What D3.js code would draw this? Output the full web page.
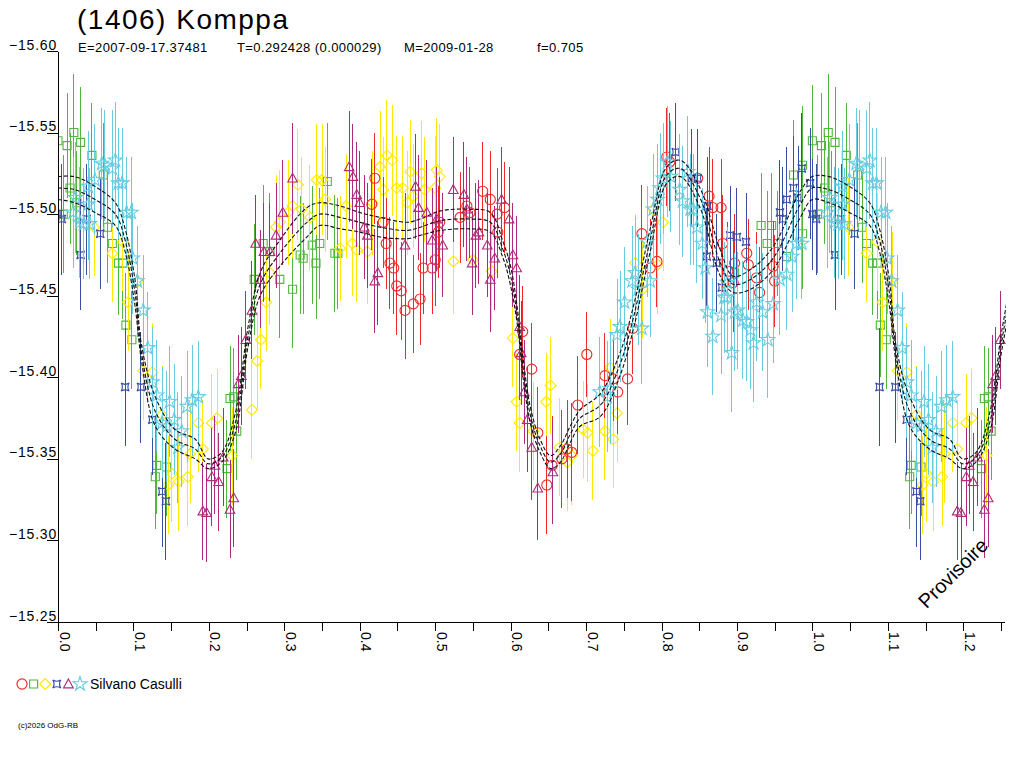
<!DOCTYPE html>
<html>
<head>
<meta charset="utf-8">
<script src="https://cdn.jsdelivr.net/npm/d3@7"></script>
<style>
body { margin: 0; background: #fff; }
text { font-family: "Liberation Sans", Arial, sans-serif; fill: #000; }
</style>
</head>
<body>
<svg id="chart" width="1024" height="768"></svg>
<script>
// phase, magnitude, error  (one array per session/symbol)
var red = [[0.416,-15.506,0.028],[0.420,-15.522,0.028],[0.431,-15.495,0.028],[0.435,-15.482,0.028],[0.440,-15.470,0.028],[0.445,-15.467,0.028],[0.449,-15.456,0.030],[0.455,-15.453,0.030],[0.460,-15.441,0.030],[0.471,-15.445,0.030],[0.480,-15.448,0.028],[0.484,-15.467,0.028],[0.496,-15.467,0.028],[0.500,-15.472,0.028],[0.504,-15.489,0.028],[0.506,-15.495,0.028],[0.533,-15.498,0.028],[0.542,-15.505,0.028],[0.546,-15.501,0.028],[0.563,-15.514,0.030],[0.573,-15.509,0.030],[0.582,-15.500,0.028],[0.583,-15.489,0.028],[0.592,-15.504,0.028],[0.612,-15.414,0.028],[0.616,-15.428,0.028],[0.628,-15.405,0.028],[0.636,-15.366,0.028],[0.648,-15.334,0.030],[0.655,-15.346,0.030],[0.668,-15.350,0.030],[0.675,-15.356,0.030],[0.681,-15.354,0.030],[0.689,-15.383,0.030],[0.701,-15.414,0.026],[0.725,-15.401,0.026],[0.736,-15.399,0.026],[0.742,-15.391,0.026],[0.755,-15.399,0.028],[0.762,-15.430,0.028],[0.774,-15.488,0.030],[0.785,-15.467,0.030],[0.794,-15.471,0.028],[0.807,-15.535,0.030],[0.811,-15.532,0.030],[0.848,-15.522,0.028],[0.863,-15.511,0.030],[0.868,-15.504,0.030],[0.879,-15.504,0.030],[0.881,-15.482,0.030],[0.888,-15.465,0.030],[0.895,-15.458,0.030],[0.897,-15.470,0.030],[0.913,-15.476,0.028],[0.915,-15.469,0.028],[0.926,-15.461,0.028],[0.930,-15.452,0.028],[0.948,-15.468,0.028],[0.950,-15.459,0.028]];

var green = [[0.000,-15.545,0.034],[0.007,-15.500,0.036],[0.012,-15.542,0.032],[0.016,-15.516,0.034],[0.021,-15.550,0.036],[0.025,-15.507,0.032],[0.030,-15.544,0.034],[0.045,-15.536,0.032],[0.060,-15.524,0.032],[0.066,-15.492,0.034],[0.072,-15.482,0.032],[0.080,-15.470,0.032],[0.086,-15.470,0.034],[0.090,-15.432,0.032],[0.098,-15.423,0.030],[0.129,-15.339,0.032],[0.131,-15.346,0.030],[0.144,-15.345,0.030],[0.224,-15.344,0.030],[0.228,-15.387,0.032],[0.233,-15.388,0.030],[0.237,-15.367,0.030],[0.260,-15.460,0.034],[0.272,-15.482,0.036],[0.281,-15.477,0.036],[0.294,-15.460,0.036],[0.311,-15.454,0.036],[0.321,-15.475,0.036],[0.325,-15.473,0.034],[0.337,-15.481,0.036],[0.342,-15.470,0.034],[0.347,-15.482,0.034],[0.357,-15.520,0.036],[0.367,-15.476,0.036],[0.371,-15.476,0.034],[0.897,-15.464,0.032],[0.932,-15.493,0.032],[0.940,-15.482,0.032],[0.946,-15.493,0.032],[0.954,-15.482,0.032],[0.966,-15.474,0.032],[0.975,-15.524,0.034],[0.987,-15.530,0.036],[0.987,-15.488,0.034]];

var yellow = [[0.048,-15.492,0.030],[0.072,-15.476,0.030],[0.086,-15.483,0.030],[0.093,-15.446,0.030],[0.106,-15.459,0.030],[0.113,-15.404,0.030],[0.125,-15.403,0.030],[0.138,-15.377,0.030],[0.146,-15.334,0.030],[0.151,-15.341,0.030],[0.160,-15.336,0.030],[0.172,-15.339,0.030],[0.175,-15.353,0.030],[0.186,-15.372,0.030],[0.192,-15.356,0.030],[0.204,-15.372,0.030],[0.211,-15.375,0.030],[0.231,-15.352,0.030],[0.257,-15.380,0.030],[0.264,-15.410,0.030],[0.269,-15.423,0.030],[0.276,-15.446,0.030],[0.281,-15.464,0.032],[0.289,-15.492,0.032],[0.294,-15.495,0.032],[0.305,-15.501,0.032],[0.311,-15.505,0.032],[0.318,-15.518,0.034],[0.323,-15.503,0.032],[0.334,-15.498,0.032],[0.343,-15.521,0.034],[0.350,-15.521,0.034],[0.354,-15.509,0.032],[0.374,-15.479,0.032],[0.382,-15.505,0.032],[0.390,-15.482,0.032],[0.396,-15.478,0.032],[0.410,-15.477,0.032],[0.417,-15.507,0.032],[0.427,-15.529,0.034],[0.431,-15.515,0.032],[0.436,-15.536,0.034],[0.443,-15.533,0.034],[0.449,-15.516,0.032],[0.457,-15.516,0.032],[0.463,-15.507,0.032],[0.467,-15.526,0.032],[0.471,-15.511,0.032],[0.482,-15.525,0.032],[0.486,-15.515,0.032],[0.500,-15.516,0.032],[0.502,-15.527,0.032],[0.506,-15.523,0.032],[0.524,-15.471,0.032],[0.550,-15.472,0.030],[0.575,-15.465,0.030],[0.603,-15.424,0.030],[0.608,-15.385,0.030],[0.612,-15.372,0.030],[0.630,-15.367,0.030],[0.647,-15.385,0.030],[0.653,-15.395,0.030],[0.665,-15.357,0.030],[0.675,-15.348,0.030],[0.681,-15.352,0.030],[0.696,-15.368,0.030],[0.702,-15.366,0.030],[0.709,-15.355,0.030],[0.725,-15.367,0.030],[0.732,-15.406,0.030],[0.736,-15.362,0.030],[0.741,-15.378,0.030],[0.765,-15.470,0.030],[0.775,-15.454,0.030],[0.789,-15.503,0.030],[0.795,-15.469,0.030],[0.802,-15.495,0.030]];

var blue = [[0.000,-15.500,0.034],[0.005,-15.497,0.034],[0.030,-15.475,0.034],[0.038,-15.497,0.034],[0.056,-15.488,0.034],[0.089,-15.394,0.036],[0.110,-15.394,0.034],[0.125,-15.374,0.034],[0.138,-15.330,0.034],[0.143,-15.324,0.036],[0.819,-15.538,0.030],[0.840,-15.522,0.030],[0.848,-15.522,0.030],[0.861,-15.505,0.030],[0.860,-15.474,0.030],[0.873,-15.470,0.030],[0.880,-15.455,0.030],[0.891,-15.487,0.030],[0.900,-15.486,0.030],[0.912,-15.483,0.030],[0.957,-15.501,0.032],[0.961,-15.497,0.032],[0.966,-15.509,0.032],[0.975,-15.516,0.032],[0.981,-15.510,0.032],[0.986,-15.528,0.034],[0.997,-15.519,0.034]];

var purple = [[0.192,-15.318,0.030],[0.197,-15.317,0.030],[0.204,-15.339,0.030],[0.208,-15.346,0.030],[0.213,-15.336,0.030],[0.219,-15.351,0.030],[0.228,-15.319,0.030],[0.233,-15.326,0.030],[0.239,-15.396,0.030],[0.243,-15.401,0.030],[0.249,-15.423,0.030],[0.257,-15.441,0.030],[0.262,-15.482,0.030],[0.268,-15.460,0.030],[0.273,-15.477,0.030],[0.281,-15.477,0.030],[0.289,-15.487,0.032],[0.298,-15.501,0.032],[0.311,-15.522,0.034],[0.386,-15.529,0.034],[0.391,-15.523,0.032],[0.396,-15.512,0.032],[0.400,-15.507,0.032],[0.406,-15.492,0.032],[0.410,-15.487,0.032],[0.420,-15.459,0.032],[0.424,-15.464,0.032],[0.460,-15.481,0.032],[0.474,-15.517,0.032],[0.478,-15.504,0.032],[0.489,-15.501,0.032],[0.496,-15.484,0.032],[0.502,-15.497,0.032],[0.510,-15.481,0.032],[0.524,-15.515,0.032],[0.538,-15.512,0.032],[0.542,-15.503,0.032],[0.549,-15.470,0.032],[0.554,-15.487,0.032],[0.558,-15.489,0.032],[0.569,-15.481,0.032],[0.573,-15.460,0.032],[0.579,-15.473,0.032],[0.588,-15.509,0.032],[0.598,-15.497,0.032],[0.603,-15.475,0.032],[0.608,-15.467,0.032],[0.612,-15.431,0.032],[0.614,-15.415,0.032],[0.618,-15.391,0.032],[0.622,-15.374,0.032],[0.628,-15.357,0.032],[0.636,-15.332,0.032],[0.656,-15.342,0.032]];

var cyan = [[0.020,-15.501,0.034],[0.023,-15.510,0.034],[0.029,-15.495,0.034],[0.034,-15.494,0.034],[0.040,-15.517,0.034],[0.040,-15.506,0.034],[0.042,-15.494,0.034],[0.049,-15.521,0.034],[0.058,-15.531,0.034],[0.062,-15.530,0.034],[0.072,-15.528,0.036],[0.076,-15.533,0.036],[0.080,-15.519,0.034],[0.085,-15.519,0.034],[0.091,-15.501,0.034],[0.097,-15.501,0.034],[0.099,-15.473,0.034],[0.105,-15.459,0.034],[0.113,-15.441,0.034],[0.119,-15.418,0.034],[0.125,-15.397,0.034],[0.131,-15.389,0.034],[0.138,-15.372,0.034],[0.144,-15.370,0.034],[0.148,-15.385,0.034],[0.154,-15.374,0.034],[0.159,-15.357,0.034],[0.164,-15.367,0.034],[0.171,-15.382,0.034],[0.178,-15.386,0.034],[0.186,-15.388,0.034],[0.718,-15.391,0.034],[0.728,-15.388,0.034],[0.732,-15.393,0.034],[0.741,-15.426,0.034],[0.745,-15.431,0.034],[0.751,-15.446,0.034],[0.761,-15.459,0.034],[0.765,-15.464,0.034],[0.769,-15.454,0.034],[0.774,-15.430,0.034],[0.781,-15.483,0.034],[0.785,-15.459,0.034],[0.789,-15.503,0.034],[0.795,-15.509,0.034],[0.798,-15.516,0.034],[0.802,-15.522,0.034],[0.808,-15.532,0.034],[0.812,-15.523,0.034],[0.824,-15.515,0.034],[0.828,-15.508,0.034],[0.835,-15.526,0.034],[0.838,-15.503,0.034],[0.842,-15.503,0.034],[0.847,-15.492,0.034],[0.854,-15.482,0.034],[0.858,-15.467,0.034],[0.861,-15.440,0.034],[0.868,-15.425,0.036],[0.879,-15.438,0.036],[0.883,-15.449,0.034],[0.887,-15.449,0.034],[0.887,-15.458,0.034],[0.893,-15.415,0.036],[0.897,-15.440,0.036],[0.901,-15.441,0.036],[0.908,-15.435,0.036],[0.913,-15.434,0.036],[0.918,-15.429,0.036],[0.922,-15.421,0.036],[0.926,-15.446,0.036],[0.934,-15.440,0.036],[0.941,-15.423,0.036],[0.948,-15.445,0.036],[0.957,-15.460,0.034],[0.966,-15.463,0.034],[0.973,-15.474,0.034],[0.979,-15.482,0.034],[0.986,-15.482,0.034]];

// Fourier fit (mean curve and its uncertainty)
var fitPhase = [0.000,0.022,0.049,0.076,0.089,0.102,0.111,0.129,0.155,0.182,0.199,0.217,0.235,0.252,0.268,0.294,0.330,0.347,0.374,0.400,0.427,0.463,0.480,0.507,0.546,0.573,0.590,0.600,0.609,0.617,0.626,0.639,0.653,0.666,0.679,0.692,0.719,0.745,0.763,0.785,0.807,0.825,0.851,0.878,0.895,0.918,0.948,0.984];
var fitMag = [-15.516,-15.515,-15.509,-15.500,-15.484,-15.452,-15.414,-15.379,-15.362,-15.356,-15.347,-15.351,-15.372,-15.425,-15.457,-15.476,-15.495,-15.500,-15.498,-15.495,-15.492,-15.490,-15.492,-15.496,-15.497,-15.495,-15.478,-15.462,-15.437,-15.404,-15.377,-15.358,-15.348,-15.353,-15.365,-15.375,-15.383,-15.408,-15.437,-15.484,-15.524,-15.528,-15.510,-15.470,-15.457,-15.460,-15.473,-15.506];
var fitSigma = [0.007,0.008,0.008,0.007,0.007,0.008,0.005,0.009,0.006,0.006,0.003,0.003,0.006,0.006,0.007,0.008,0.009,0.007,0.007,0.006,0.006,0.005,0.005,0.006,0.006,0.006,0.005,0.006,0.005,0.006,0.005,0.004,0.004,0.005,0.005,0.005,0.007,0.007,0.007,0.007,0.005,0.005,0.006,0.008,0.005,0.006,0.007,0.008];

var yTicks = [-15.60,-15.55,-15.50,-15.45,-15.40,-15.35,-15.30,-15.25];
var xTicks = [0,0.05,0.1,0.15,0.2,0.25,0.3,0.35,0.4,0.45,0.5,0.55,0.6,0.65,0.7,0.75,0.8,0.85,0.9,0.95,1.0,1.05,1.1,1.15,1.2,1.25];

var series = [
  {data: green,  color: '#4fb83c', shape: 'square'},
  {data: yellow, color: '#ffea00', shape: 'diamond'},
  {data: red,    color: '#f02828', shape: 'circle'},
  {data: purple, color: '#b02a7c', shape: 'triangle'},
  {data: blue,   color: '#3a4ea6', shape: 'cross'},
  {data: cyan,   color: '#66cce0', shape: 'star'}
];

var margin = {top: 51, left: 58},
  width = 946,
  height = 571,
  phaseMax = 1.254;

var x = d3.scaleLinear().domain([0, phaseMax]).range([0, width]);
var y = d3.scaleLinear().domain([-15.60, -15.25]).range([0, height]);

var svg = d3.select('#chart');
svg.append('rect').attr('width', 1024).attr('height', 768).attr('fill', '#fff');

svg.append('defs').append('clipPath').attr('id', 'plotclip')
  .append('rect').attr('x', 0).attr('y', -margin.top).attr('width', width + 2).attr('height', 768);

var container = svg.append('g')
  .attr('transform', 'translate(' + margin.left + ',' + margin.top + ')');

function shapePath(shape) {
  if (shape === 'circle') return d3.symbol(d3.symbolCircle, 80)();
  if (shape === 'square') return 'M-4,-4H4V4H-4Z';
  if (shape === 'diamond') return 'M0,-5.5L5.5,0L0,5.5L-5.5,0Z';
  if (shape === 'triangle') return 'M0,-5L4.8,3.8H-4.8Z';
  if (shape === 'cross') return 'M-4,-4Q0,-1.5 4,-4Q1.5,0 4,4Q0,1.5 -4,4Q-1.5,0 -4,-4Z';
  return d3.symbol(d3.symbolStar, 60)();
}

// a folded light curve is repeated after phase 1
function wrap(arr) {
  var extra = arr.filter(function(d) { return d[0] + 1 <= phaseMax; })
    .map(function(d) { return [d[0] + 1, d[1], d[2]]; });
  return arr.concat(extra);
}

var plot = container.append('g').attr('clip-path', 'url(#plotclip)');

series.forEach(function(s) {
  var pts = wrap(s.data);
  var g = plot.append('g');
  g.selectAll('line.err')
    .data(pts)
    .enter().append('line')
    .attr('class', 'err')
    .attr('x1', function(d) { return x(d[0]); })
    .attr('x2', function(d) { return x(d[0]); })
    .attr('y1', function(d) { return y(d[1] - d[2]); })
    .attr('y2', function(d) { return y(d[1] + d[2]); })
    .attr('stroke', s.color)
    .attr('stroke-width', 1)
    .attr('shape-rendering', 'crispEdges');
  g.selectAll('path.mark')
    .data(pts)
    .enter().append('path')
    .attr('class', 'mark')
    .attr('d', shapePath(s.shape))
    .attr('transform', function(d) { return 'translate(' + x(d[0]) + ',' + y(d[1]) + ')'; })
    .attr('fill', 'none')
    .attr('stroke', s.color)
    .attr('stroke-width', 1.1);
});

// fit curves
var fit = fitPhase.map(function(p, i) { return [p, fitMag[i], fitSigma[i]]; });
var fitAll = fit.concat(fit.filter(function(d) { return d[0] <= 0.3; })
  .map(function(d) { return [d[0] + 1, d[1], d[2]]; }));

[-1, 0, 1].forEach(function(k) {
  var line = d3.line()
    .x(function(d) { return x(d[0]); })
    .y(function(d) { return y(d[1] + k * d[2]); })
    .curve(d3.curveCatmullRom);
  plot.append('path')
    .datum(fitAll)
    .attr('d', line)
    .attr('fill', 'none')
    .attr('stroke', '#111')
    .attr('stroke-width', 1.1)
    .attr('stroke-dasharray', '4,2');
});

// axes
var yAxis = d3.axisLeft(y).tickValues(yTicks).tickSize(11).tickSizeOuter(0)
  .tickFormat(d3.format('.2f'));
var gy = container.append('g').call(yAxis);
gy.selectAll('.tick text')
  .attr('x', -1).attr('y', -2).attr('dy', null)
  .style('font-size', '14px').style('letter-spacing', '0.8px');

var xAxis = d3.axisBottom(x).tickValues(xTicks).tickSize(9).tickSizeOuter(0)
  .tickFormat(function(d, i) { return i % 2 === 0 ? d3.format('.1f')(d) : ''; });
var gx = container.append('g')
  .attr('transform', 'translate(0,' + height + ')')
  .call(xAxis);
gx.selectAll('.tick text')
  .attr('transform', 'rotate(90)')
  .attr('text-anchor', 'start')
  .attr('x', 10).attr('y', -1).attr('dy', null)
  .style('font-size', '14px');

svg.selectAll('.domain, .tick line').attr('stroke', '#000').attr('shape-rendering', 'crispEdges');

// titles
svg.append('text').attr('x', 77).attr('y', 29)
  .style('font-size', '28px').style('letter-spacing', '1.5px')
  .text('(1406) Komppa');

var sub = [['E=2007-09-17.37481', 78], ['T=0.292428 (0.000029)', 237], ['M=2009-01-28', 404], ['f=0.705', 537]];
svg.selectAll('text.sub')
  .data(sub)
  .enter().append('text')
  .attr('class', 'sub')
  .attr('x', function(d) { return d[1]; })
  .attr('y', 52)
  .style('font-size', '13px').style('letter-spacing', '0.4px')
  .text(function(d) { return d[0]; });

// legend
var legend = svg.append('g').attr('transform', 'translate(22,684)');
var legendOrder = ['circle', 'square', 'diamond', 'cross', 'triangle', 'star'];
legendOrder.forEach(function(shape, i) {
  var s = series.filter(function(d) { return d.shape === shape; })[0];
  legend.append('path')
    .attr('d', shapePath(s.shape))
    .attr('transform', 'translate(' + (i * 11.6) + ',0)')
    .attr('fill', 'none')
    .attr('stroke', s.color)
    .attr('stroke-width', 1.2);
});
svg.append('text').attr('x', 90).attr('y', 689)
  .style('font-size', '14px')
  .text('Silvano Casulli');

svg.append('text').attr('x', 18).attr('y', 728)
  .style('font-size', '8px')
  .text('(c)2026 OdG-RB');

svg.append('text')
  .attr('transform', 'translate(958,578) rotate(-45)')
  .attr('text-anchor', 'middle')
  .style('font-size', '20px')
  .text('Provisoire');
</script>
</body>
</html>
